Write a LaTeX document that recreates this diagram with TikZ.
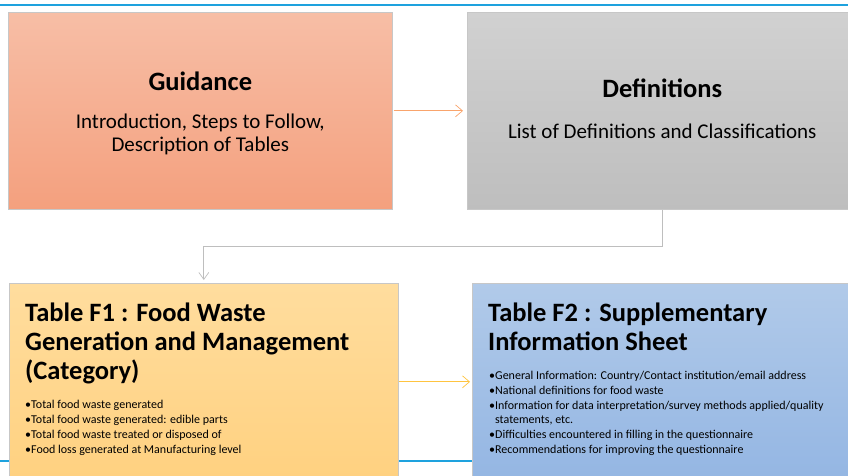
\documentclass[tikz,border=0pt]{standalone}
\usepackage{fontspec}
\setmainfont{Carlito}
\usetikzlibrary{arrows.meta,calc}
\definecolor{guidtop}{RGB}{247,190,166}
\definecolor{guidbot}{RGB}{244,160,126}
\definecolor{deftop}{RGB}{209,209,209}
\definecolor{defbot}{RGB}{190,190,190}
\definecolor{fonetop}{RGB}{255,221,158}
\definecolor{fonebot}{RGB}{255,209,128}
\definecolor{ftwotop}{RGB}{177,202,233}
\definecolor{ftwobot}{RGB}{148,182,227}
\definecolor{ruleblue}{RGB}{30,162,222}
\definecolor{orangeline}{RGB}{249,164,108}
\definecolor{yellowline}{RGB}{255,196,64}
\definecolor{grayline}{RGB}{190,190,190}

\begin{document}
\begin{tikzpicture}[x=1pt,y=-1pt]
    \tikzstyle{line} = [-{Straight Barb[length=7pt,width=12pt]}, line width=0.7pt]
    \tikzstyle{rec} = [rectangle, draw=black!22, line width=0.6pt,
        anchor=north west, minimum width=389pt, minimum height=197pt,
        inner sep=0pt]
    \tikzstyle{boxtitle} = [font=\fontsize{26.5}{29}\selectfont\bfseries,
        align=left, inner sep=0pt, anchor=north west]
    \tikzstyle{boxbody} = [font=\fontsize{21}{23.5}\selectfont,
        align=center, inner sep=0pt]
    \tikzstyle{bulletlist} = [font=\fontsize{12}{15.1}\selectfont,
        align=left, inner sep=0pt, anchor=north west]

    \useasboundingbox (0,0) rectangle (848,476);
    \clip (0,0) rectangle (848,476);

    \draw[ruleblue, line width=1.3pt] (0,5) -- (848,5);
    \draw[ruleblue, line width=1.3pt] (0,461) -- (848,461);

    \node(guidance) [rec, top color=guidtop, bottom color=guidbot,
        minimum width=384pt] at (8,12) {};
    \node(definitions) [rec, top color=deftop, bottom color=defbot,
        minimum width=390pt] at (467,12) {};
    \node(tablefone) [rec, top color=fonetop, bottom color=fonebot]
        at (9,283) {};
    \node(tableftwo) [rec, top color=ftwotop, bottom color=ftwobot]
        at (472,283) {};

    \node(guidancetext) [boxbody] at ($(guidance.center)+(0,3)$)
        {{\fontsize{26.5}{29}\selectfont\bfseries Guidance}\\[14pt]
        Introduction, Steps to Follow,\\ Description of Tables};
    \node(definitionstext) [boxbody] at ($(definitions.center)+(0,-2)$)
        {{\fontsize{26.5}{29}\selectfont\bfseries Definitions}\\[18pt]
        List of Definitions and Classifications};

    \node(fonetitle) [boxtitle] at ($(tablefone.north west)+(16,20)$)
        {Table F1 : Food Waste\\ Generation and Management\\ (Category)};
    \node(fonelist) [bulletlist] at ($(tablefone.north west)+(16,117)$)
        {\textbullet Total food waste generated\\
        \textbullet Total food waste generated: edible parts\\
        \textbullet Total food waste treated or disposed of\\
        \textbullet Food loss generated at Manufacturing level};
    \node(ftwotitle) [boxtitle] at ($(tableftwo.north west)+(16,20)$)
        {Table F2 : Supplementary\\ Information Sheet};
    \node(ftwolist) [bulletlist, font=\fontsize{12}{14.8}\selectfont]
        at ($(tableftwo.north west)+(17,88)$)
        {\textbullet General Information: Country/Contact institution/email address\\
        \textbullet National definitions for food waste\\
        \textbullet Information for data interpretation/survey methods applied/quality\\
        \phantom{\textbullet}statements, etc.\\
        \textbullet Difficulties encountered in filling in the questionnaire\\
        \textbullet Recommendations for improving the questionnaire};

    \draw[line, orangeline, shorten <=1pt, shorten >=4pt] (guidance) -- (definitions);
    \draw[line, grayline, -{Straight Barb[length=7pt,width=10pt]}, shorten >=3pt]
        (definitions.south) -- ++(0,37) -| (tablefone.north);
    \draw[line, yellowline, shorten >=2pt] (tablefone) -- (tableftwo);
\end{tikzpicture}
\end{document}
